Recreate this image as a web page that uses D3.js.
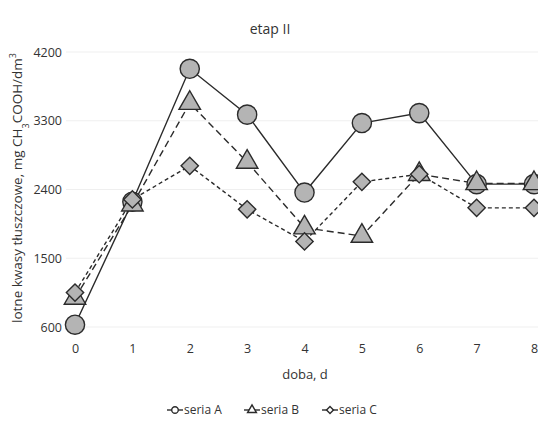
<!DOCTYPE html>
<html>
<head>
<meta charset="utf-8">
<script src="https://cdn.jsdelivr.net/npm/d3@7"></script>
<style>
  html, body { margin: 0; padding: 0; background: #fff; }
  svg { display: block; font-family: "Open Sans", "Noto Sans", sans-serif; }
</style>
</head>
<body>
<div id="chart"></div>
<script>
// --- data ----------------------------------------------------------------
const days = [0, 1, 2, 3, 4, 5, 6, 7, 8];
const seriesA = [630, 2240, 3980, 3380, 2360, 3270, 3400, 2470, 2470];
const seriesB = [980, 2200, 3530, 2760, 1900, 1790, 2600, 2480, 2480];
const seriesC = [1050, 2270, 2710, 2140, 1720, 2500, 2600, 2160, 2160];
const yTicks = [600, 1500, 2400, 3300, 4200];
const seriesNames = ['seria A', 'seria B', 'seria C'];

const width = 538, height = 421;
const x = d3.scaleLinear().domain([0, 8]).range([75, 534]);
const y = d3.scaleLinear().domain([600, 4200]).range([327, 52]);
const textColor = '#333';

const svg = d3.select('#chart').append('svg')
  .attr('width', width).attr('height', height);

// faint gridlines
svg.append('g').selectAll('line').data(yTicks).join('line')
  .attr('x1', 66).attr('x2', width)
  .attr('y1', (d) => y(d)).attr('y2', (d) => y(d))
  .attr('stroke', '#efefef').attr('stroke-width', 1);

// axes
const yAxis = svg.append('g').attr('transform', 'translate(64,0)')
  .call(d3.axisLeft(y).tickValues(yTicks).tickSize(0).tickPadding(2).tickFormat(d3.format('d')));
yAxis.select('.domain').remove();
yAxis.selectAll('text').attr('fill', textColor).style('font-size', '12.5px')
  .style('font-family', '"Open Sans", sans-serif');

const xAxis = svg.append('g').attr('transform', 'translate(0,340)')
  .call(d3.axisBottom(x).tickValues(days).tickSize(0).tickPadding(4).tickFormat(d3.format('d')));
xAxis.select('.domain').remove();
xAxis.selectAll('text').attr('fill', textColor).style('font-size', '12.5px')
  .style('font-family', '"Open Sans", sans-serif');

// titles
svg.append('text').attr('x', 270).attr('y', 34).attr('text-anchor', 'middle')
  .attr('fill', textColor).style('font-size', '14px').text('etap II');

svg.append('text').attr('x', 305).attr('y', 379).attr('text-anchor', 'middle')
  .attr('fill', textColor).style('font-size', '13px').text('doba, d');

const yl = svg.append('text')
  .attr('transform', 'translate(22,188) rotate(-90)')
  .attr('text-anchor', 'middle').attr('fill', textColor).style('font-size', '13.5px');
yl.append('tspan').text('lotne kwasy tłuszczowe, mg CH');
yl.append('tspan').attr('baseline-shift', 'sub').style('font-size', '9px').text('3');
yl.append('tspan').text('COOH/dm');
yl.append('tspan').attr('baseline-shift', 'super').style('font-size', '9px').text('3');

// series
const stroke = '#2b2b2b', fill = '#b4b4b4';
const series = [
  { values: seriesA, dash: null, sym: d3.symbolCircle, size: 290, rot: 0 },
  { values: seriesB, dash: '7,4', sym: d3.symbolTriangle, size: 200, rot: 0 },
  { values: seriesC, dash: '4,3', sym: d3.symbolSquare, size: 150, rot: 45 },
];

const line = d3.line().x((d, i) => x(days[i])).y((d) => y(d));

series.forEach((s) => {
  svg.append('path').datum(s.values)
    .attr('d', line).attr('fill', 'none')
    .attr('stroke', stroke).attr('stroke-width', 1.4)
    .attr('stroke-dasharray', s.dash);
});

series.forEach((s) => {
  svg.append('g').selectAll('path').data(s.values).join('path')
    .attr('transform', (d, i) => `translate(${x(days[i])},${y(d)}) rotate(${s.rot})`)
    .attr('d', d3.symbol().type(s.sym).size(s.size))
    .attr('fill', fill).attr('stroke', stroke).attr('stroke-width', 1.4);
});

// legend
const legend = svg.append('g').attr('transform', 'translate(0,410)');
const lx = [167, 244, 322];
series.forEach((s, i) => {
  const g = legend.append('g').attr('transform', `translate(${lx[i]},0)`);
  g.append('line').attr('x1', 0).attr('x2', 16).attr('y1', 0).attr('y2', 0)
    .attr('stroke', stroke).attr('stroke-width', 1.4);
  g.append('path').attr('transform', `translate(8,0) rotate(${s.rot})`)
    .attr('d', d3.symbol().type(s.sym).size(s.rot ? 24 : 34))
    .attr('fill', '#fff').attr('stroke', stroke).attr('stroke-width', 1.4);
  g.append('text').attr('x', 17).attr('y', 4).attr('fill', textColor)
    .style('font-size', '12px').text(seriesNames[i]);
});
</script>
</body>
</html>
